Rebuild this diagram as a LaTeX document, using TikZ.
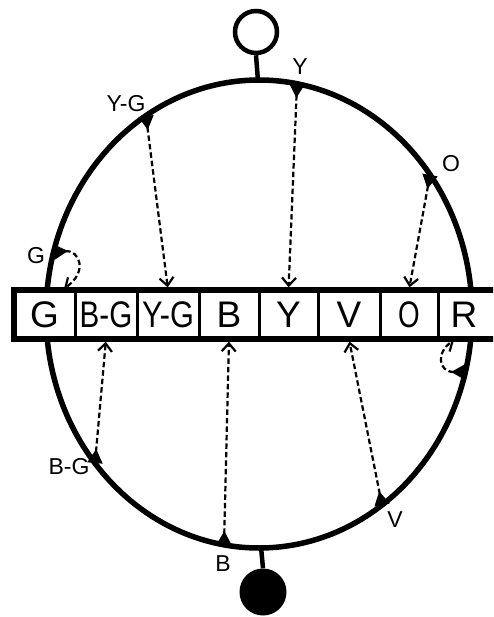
\documentclass[tikz,border=0pt]{standalone}
\usepackage{fontspec}
\setmainfont{Liberation Sans}
\usetikzlibrary{arrows.meta}
\newcommand\sqz[2]{\scalebox{#1}[1]{#2}}
\begin{document}
\begin{tikzpicture}[x=1pt,y=-1pt,
  ring/.style={line width=5.5pt},
  cell/.style={minimum height=49pt, inner sep=0pt, font=\fontsize{37}{37}\selectfont},
  divider/.style={line width=2.8pt},
  ray/.style={line width=2.2pt, dash pattern=on 5.5pt off 3pt,
    {Triangle[reversed,length=14pt,width=15pt]}-{Straight Barb[length=8pt,width=14pt,line width=2.2pt]},
    shorten >=2.5pt},
  lab/.style={font=\fontsize{23}{23}\selectfont, inner sep=0pt},
  stem/.style={line width=4.5pt}
]
\clip (0,0) rectangle (493,617);
% ring
\draw[ring] (259,314) ellipse [x radius=213, y radius=234];
\coordinate (eTop) at (258,81);
\coordinate (eBot) at (261,547);
% knobs
\node[circle, draw, line width=4.5pt, minimum size=42pt, inner sep=0pt, fill=white] (knobTop) at (256,32) {};
\node[circle, fill=black, minimum size=47pt, inner sep=0pt] (knobBot) at (263,592) {};
\draw[stem] (knobTop.south) -- (eTop);
\draw[stem] (eBot) -- (knobBot.north);
% bar
\draw[line width=5.5pt, fill=white] (14,290) rectangle (510,339);
\node[cell, minimum width=61pt] (cG)  at (44.5,314.5) {G};
\node[cell, minimum width=62pt] (cBG) at (106,314.5) {\sqz{0.8}{B-G}};
\node[cell, minimum width=62pt] (cYG) at (168,314.5) {\sqz{0.83}{Y-G}};
\node[cell, minimum width=60pt] (cB)  at (229,314.5) {B};
\node[cell, minimum width=59pt] (cY)  at (288.5,314.5) {Y};
\node[cell, minimum width=62pt] (cV)  at (349,314.5) {V};
\node[cell, minimum width=58pt] (cO)  at (409,314.5) {\sqz{0.75}{O}};
\node[cell, minimum width=52pt] (cR)  at (464,314.5) {R};
\foreach \c in {cG,cBG,cYG,cB,cY,cV,cO}
  \draw[divider] (\c.north east) -- (\c.south east);
% sources on the ring
\coordinate (sY)  at (297,84);
\coordinate (sYG) at (146,116);
\coordinate (sO)  at (430,175);
\coordinate (sG)  at (54,252);
\coordinate (sR)  at (465,372);
\coordinate (sBG) at (95,463);
\coordinate (sB)  at (224,545);
\coordinate (sV)  at (382,505);
\coordinate (tG)  at (62,290);
\coordinate (tR)  at (456,339);
% rays
\draw[ray] (sY) -- (cY.north);
\draw[ray] (sYG) -- (cYG.north);
\draw[ray] (sO) -- (cO.north);
\draw[ray] (sG) .. controls (80,250) and (88,272) .. (tG);
\draw[ray] (sR) .. controls (438,372) and (436,352) .. (tR);
\draw[ray] (sBG) -- (cBG.south);
\draw[ray] (sB) -- (cB.south);
\draw[ray] (sV) -- (cV.south);
% labels
\node[lab] (lY)  at (300,67) {Y};
\node[lab] (lYG) at (126,104) {Y-G};
\node[lab] (lO)  at (451,164) {O};
\node[lab] (lG)  at (36,256) {G};
\node[lab] (lBG) at (69,467) {B-G};
\node[lab] (lV)  at (395,520) {V};
\node[lab] (lB)  at (223,564) {B};
\end{tikzpicture}
\end{document}
